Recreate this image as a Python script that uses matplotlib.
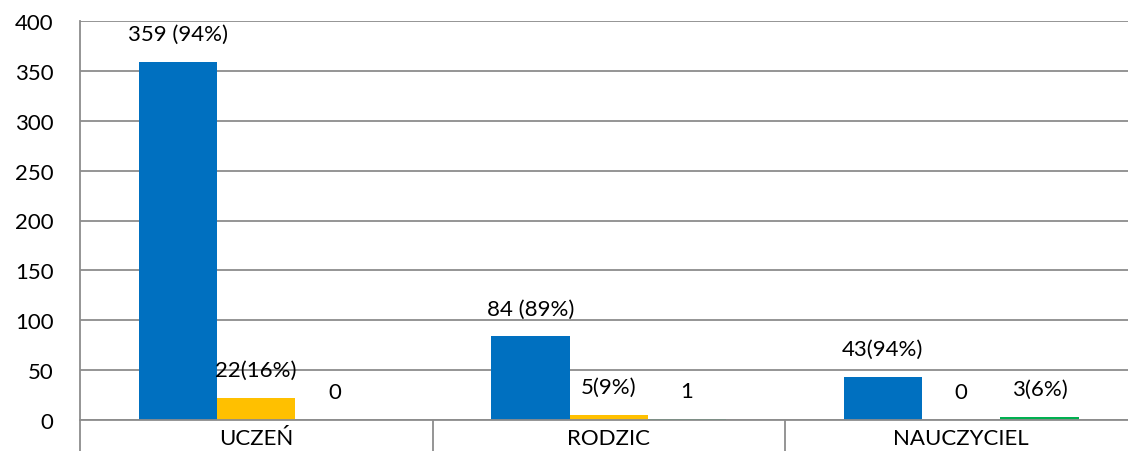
import matplotlib.pyplot as plt
import numpy as np

plt.rcParams['font.family'] = ['Lato', 'DejaVu Sans']

categories = ["UCZEŃ", "RODZIC", "NAUCZYCIEL"]
blue_vals = [359, 84, 43]
yellow_vals = [22, 5, 0]
green_vals = [0, 1, 3]
blue_labels = ["359 (94%)", "84 (89%)", "43(94%)"]
yellow_labels = ["22(16%)", "5(9%)", "0"]
green_labels = ["0", "1", "3(6%)"]
yticks = [0, 50, 100, 150, 200, 250, 300, 350, 400]

fig = plt.figure(figsize=(11.28, 4.52), dpi=100)
# plot area runs a bit past the right edge, like the original
ax = fig.add_axes([80 / 1128, 31 / 452, 1057.5 / 1128, 399 / 452])

x = np.arange(len(categories))
w = 1 / 4.5
grid_col = "#8c8c8c"
fs = 16

series = [
    (blue_vals, blue_labels, "#0070C0", -w),
    (yellow_vals, yellow_labels, "#FFC000", 0),
    (green_vals, green_labels, "#00B050", w),
]
for vals, labels, col, off in series:
    bars = ax.bar(x + off, vals, width=w, color=col, zorder=3)
    for rect, lab in zip(bars, labels):
        ax.annotate(lab, (rect.get_x() + rect.get_width() / 2, rect.get_height()),
                    xytext=(0, 20), textcoords="offset points",
                    ha="center", va="center", fontsize=fs, color="#000000")

ax.set_xlim(-0.5, 2.5)
ax.set_ylim(0, 400)
ax.set_yticks(yticks)
ax.yaxis.grid(True, color=grid_col, linewidth=1.3, zorder=0)
ax.set_axisbelow(True)

ax.set_xticks(x)
ax.set_xticklabels(categories)
ax.set_xticks([-0.5, 0.5, 1.5, 2.5], minor=True)
ax.tick_params(axis="x", which="major", length=0, pad=6, labelsize=fs)
ax.tick_params(axis="x", which="minor", length=23, width=1.3, color=grid_col, direction="out")
ax.tick_params(axis="y", length=0, pad=19, labelsize=fs)

for s in ["top", "right"]:
    ax.spines[s].set_visible(False)
for s in ["left", "bottom"]:
    ax.spines[s].set_color(grid_col)
    ax.spines[s].set_linewidth(1.3)
    ax.spines[s].set_zorder(4)

fig.savefig("out.png", dpi=100)
